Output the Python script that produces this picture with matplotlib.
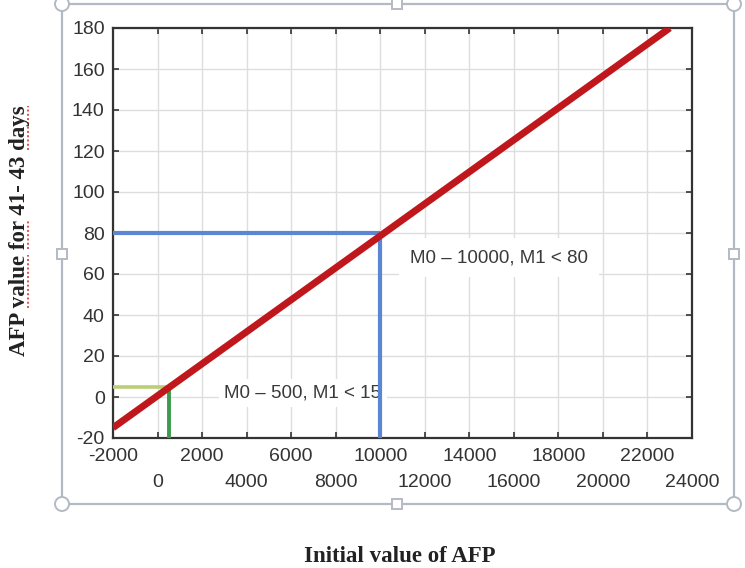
import matplotlib
matplotlib.use('Agg')
import matplotlib.pyplot as plt
from matplotlib.patches import Rectangle, Circle

# ---- data ----
trend_x = [-2000, 23000]
trend_y = [-15, 180]

blue_level_x = [-2000, 10000]
blue_level_y = [80, 80]
blue_drop_x = [10000, 10000]
blue_drop_y = [-20, 80]

green_level_x = [-2000, 500]
green_level_y = [5, 5]
green_drop_x = [500, 500]
green_drop_y = [-20, 5]

x_ticks_row1 = [-2000, 2000, 6000, 10000, 14000, 18000, 22000]
x_ticks_row2 = [0, 4000, 8000, 12000, 16000, 20000, 24000]
y_ticks = [-20, 0, 20, 40, 60, 80, 100, 120, 140, 160, 180]

note_big = 'M0 – 10000, M1 < 80'
note_small = 'M0 – 500, M1 < 15'

W, H = 745, 568

RED = '#c0171c'
BLUE = '#5b87d2'
GREEN = '#3c9a4a'
LIME = '#b9cf72'
FRAME = '#b4bac4'
TICK_COL = '#333333'


def px(x, y):
    """pixel position (from top-left) -> figure fraction"""
    return x / W, (H - y) / H


fig = plt.figure(figsize=(W / 100, H / 100), dpi=100)
fig.patch.set_facecolor('white')

ax = fig.add_axes([113 / W, (H - 438) / H, (692 - 113) / W, (438 - 28) / H])
ax.set_xlim(-2000, 24000)
ax.set_ylim(-20, 180)

ax.set_xticks(x_ticks_row1)
ax.set_xticklabels([str(v) for v in x_ticks_row1])
ax.set_xticks(x_ticks_row2, minor=True)
ax.set_xticklabels([str(v) for v in x_ticks_row2], minor=True)
ax.set_yticks(y_ticks)
ax.set_yticklabels([str(v) for v in y_ticks])

for lab in ax.get_xticklabels(which='both') + ax.get_yticklabels():
    lab.set_fontfamily('Liberation Sans')
    lab.set_fontsize(14)
    lab.set_color(TICK_COL)

ax.tick_params(axis='x', which='major', direction='in', length=4, width=1.2,
               pad=7, top=True, colors='#333333', labelcolor=TICK_COL)
ax.tick_params(axis='x', which='minor', direction='in', length=4, width=1.2,
               pad=26, top=True, colors='#333333', labelcolor=TICK_COL)
ax.tick_params(axis='y', direction='in', length=4, width=1.2, pad=6,
               right=True, colors='#333333', labelcolor=TICK_COL)

ax.grid(True, which='both', color='#dedede', linewidth=1.0)
ax.set_axisbelow(True)
for s in ax.spines.values():
    s.set_color('#333333')
    s.set_linewidth(1.6)

# annotation boxes (under the guide lines)
ax.text(3000, 2, note_small, fontsize=13.5, family='Liberation Sans',
        color='#3a3a3a', va='center', ha='left', zorder=2,
        bbox=dict(facecolor='white', edgecolor='none', pad=4))
ax.text(11350, 68, note_big, fontsize=13.5, family='Liberation Sans',
        color='#3a3a3a', va='center', ha='left', zorder=2,
        bbox=dict(facecolor='white', edgecolor='none', pad=8))

# guide lines
ax.plot(green_level_x, green_level_y, color=LIME, linewidth=2.6, zorder=3,
        solid_capstyle='butt')
ax.plot(green_drop_x, green_drop_y, color=GREEN, linewidth=2.8, zorder=3,
        solid_capstyle='butt')
ax.plot(blue_level_x, blue_level_y, color=BLUE, linewidth=3.0, zorder=3,
        solid_capstyle='butt')
ax.plot(blue_drop_x, blue_drop_y, color=BLUE, linewidth=3.0, zorder=3,
        solid_capstyle='butt')

# trend line
ax.plot(trend_x, trend_y, color=RED, linewidth=5.0, zorder=4,
        solid_capstyle='butt')

# axis titles (bold serif, as in the source document)
label_font = dict(family='Liberation Serif', weight='bold', size=16.5, color='#222222')
ylab_text = 'AFP value for 41- 43 days'
ylab = fig.text(*px(20, 231), ylab_text, rotation=90, ha='center', va='center',
                **label_font)
fig.text(*px(400, 557), 'Initial value of AFP', ha='center', va='center',
         **label_font)

# red spell-check underlines under "value", "for", "days"
fig.canvas.draw()
renderer = fig.canvas.get_renderer()
bb = ylab.get_window_extent(renderer)


def prefix_len(s):
    t = fig.text(0, 0, s, **label_font)
    w = t.get_window_extent(renderer).width
    t.remove()
    return w


for word in ['value', 'for', 'days']:
    i = ylab_text.index(word)
    y0 = bb.y0 + prefix_len(ylab_text[:i])
    y1 = bb.y0 + prefix_len(ylab_text[:i + len(word)])
    xline = bb.x1 - 3
    fig.add_artist(plt.Line2D([xline / W, xline / W], [y0 / H, y1 / H],
                              color='#d9534f', linewidth=1.4, linestyle=(0, (1, 1.2))))

# selection frame of the embedded picture, with its handles
fx0, fy0 = px(62, 504)
fx1, fy1 = px(734, 4)
fig.add_artist(Rectangle((fx0, fy0), fx1 - fx0, fy1 - fy0, transform=fig.transFigure,
                         fill=False, edgecolor=FRAME, linewidth=1.6))

for cx, cy in [(62, 4), (734, 4), (62, 504), (734, 504)]:
    fig.add_artist(Circle((cx, H - cy), 7, transform=None, facecolor='white',
                          edgecolor=FRAME, linewidth=1.4))
for sx, sy in [(397, 4), (397, 504), (62, 254), (734, 254)]:
    fig.add_artist(Rectangle((sx - 5, H - sy - 5), 10, 10, transform=None,
                             facecolor='white', edgecolor=FRAME, linewidth=1.4))

fig.savefig('out.png', dpi=100)
